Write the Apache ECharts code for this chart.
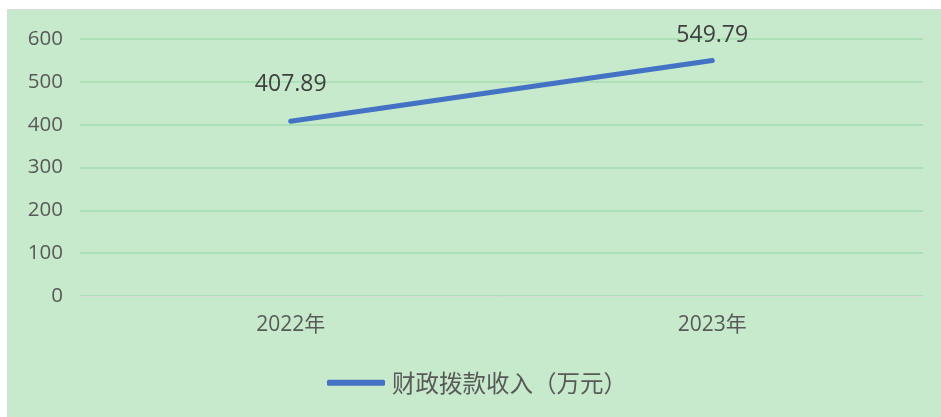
<!DOCTYPE html>
<html>
<head>
<meta charset="utf-8">
<script src="https://cdn.jsdelivr.net/npm/echarts@6/dist/echarts.min.js"></script>
<style>
html,body{margin:0;padding:0;background:#fff;}
#c{width:941px;height:417px;}
</style>
</head>
<body>
<div id="c"></div>
<script>
var categories = ['2022年', '2023年'];
var seriesName = '财政拨款收入（万元）';
var values = [407.89, 549.79];
var yTicks = [0, 100, 200, 300, 400, 500, 600];

var labelOffsets = [[0, -20], [0, -9]];
var chart = echarts.init(document.getElementById('c'));
var font = '"Open Sans", "Noto Sans CJK SC", sans-serif';
chart.setOption({
  backgroundColor: '#ffffff',
  animation: false,
  graphic: [{
    type: 'rect', z: -10, silent: true,
    shape: { x: 7.5, y: 9.5, width: 940, height: 415 },
    style: { fill: '#c6eacb', stroke: '#d9d9d9', lineWidth: 1 }
  }],
  grid: { left: 80, right: 18, top: 39, bottom: 121, containLabel: false },
  xAxis: {
    type: 'category',
    data: categories,
    boundaryGap: true,
    axisLine: { show: true, lineStyle: { color: '#d9d9d9', width: 1 } },
    axisTick: { show: false },
    axisLabel: { color: '#595959', fontSize: 21, fontFamily: font, margin: 19 },
    splitLine: { show: false }
  },
  yAxis: {
    type: 'value',
    min: yTicks[0],
    max: yTicks[yTicks.length - 1],
    interval: yTicks[1] - yTicks[0],
    axisLine: { show: false },
    axisTick: { show: false },
    axisLabel: { color: '#595959', fontSize: 20.5, fontFamily: font, margin: 17 },
    splitLine: { show: true, lineStyle: { color: '#a5dcb1', width: 1.5 } }
  },
  legend: {
    show: true,
    left: 327,
    top: 371,
    padding: 0,
    icon: 'roundRect',
    itemWidth: 58,
    itemHeight: 6,
    itemGap: 10,
    textStyle: { color: '#595959', fontSize: 23.5, fontFamily: '"Noto Sans CJK SC", sans-serif', padding: [0, 0, 0, 2] },
    data: [seriesName]
  },
  series: [{
    name: seriesName,
    type: 'line',
    data: values.map(function (v, i) {
      return { value: v, label: { offset: labelOffsets[i] } };
    }),
    symbol: 'circle',
    symbolSize: 0,
    showSymbol: true,
    lineStyle: { color: '#4472c4', width: 5, cap: 'round' },
    itemStyle: { color: '#4472c4' },
    label: {
      show: true,
      position: 'top',
      distance: 5,
      color: '#404040',
      fontSize: 23,
      fontFamily: font
    }
  }]
});
</script>
</body>
</html>
